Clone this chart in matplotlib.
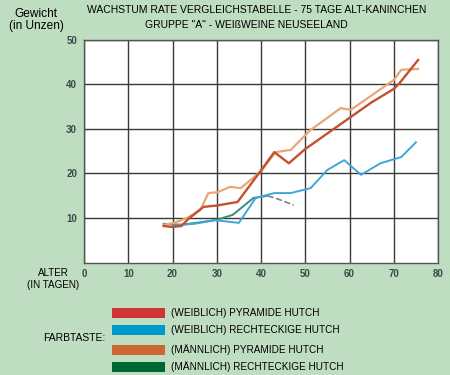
import matplotlib
matplotlib.use("Agg")
import matplotlib.pyplot as plt
from matplotlib.patches import Rectangle

plt.rcParams['font.family'] = ['Liberation Sans', 'DejaVu Sans']

title1 = 'WACHSTUM RATE VERGLEICHSTABELLE - 75 TAGE ALT-KANINCHEN'
title2 = 'GRUPPE "A" - WEIßWEINE NEUSEELAND'
ylabel = 'Gewicht\n(in Unzen)'
xlabel = 'ALTER\n(IN TAGEN)'
legend_title = 'FARBTASTE:'
series_names = ['(WEIBLICH) PYRAMIDE HUTCH', '(WEIBLICH) RECHTECKIGE HUTCH',
                '(MÄNNLICH) PYRAMIDE HUTCH', '(MÄNNLICH) RECHTECKIGE HUTCH']
legend_colors = ['#D03434', '#0099CC', '#CC6633', '#006633']

x_ticks = [0, 10, 20, 30, 40, 50, 60, 70, 80]
y_ticks = [10, 20, 30, 40, 50]

# female pyramid (red)
fp_x = [18, 20, 22, 23.6, 27, 30, 34.7, 39.5, 43, 46.3, 50, 55, 60, 65, 70, 71.3, 75.5]
fp_y = [8.2, 8.0, 8.2, 9.8, 12.5, 12.8, 13.6, 20, 24.8, 22.3, 25.5, 29, 32.5, 36, 39, 40.3, 45.5]
# female rectangular (blue)
fr_x = [20, 25, 29.7, 35, 38.8, 43, 46.7, 51.2, 55, 58.8, 62.6, 67, 71.7, 75]
fr_y = [8.3, 8.7, 9.5, 8.9, 14.5, 15.6, 15.6, 16.7, 20.8, 23, 19.7, 22.3, 23.7, 27]
# male pyramid (orange)
mp_x = [18, 20, 23.3, 26.3, 28.1, 30.2, 33, 35.4, 40, 43.3, 46.7, 51.2, 55, 58, 60.3, 64.2, 70, 71.7, 75.5]
mp_y = [8.5, 8.8, 10, 11.8, 15.6, 15.8, 17, 16.7, 20.5, 24.8, 25.3, 29.8, 32.5, 34.7, 34.3, 37, 41, 43.3, 43.5]
# male rectangular (green), with dashed continuation
mr_x = [18, 22, 26, 30, 33.6, 38.3, 41.5]
mr_y = [8.7, 8.5, 9.0, 9.6, 10.7, 14.5, 15]
mr_dash_x = [41.5, 44, 47.4]
mr_dash_y = [15, 14.2, 12.9]

bg = '#BFDDC1'
fig = plt.figure(figsize=(4.5, 3.75), dpi=100, facecolor=bg)
ax = fig.add_axes([84/450, 1-262.5/375, 354/450, 222.5/375])
ax.set_facecolor('white')
ax.set_xlim(0, 80)
ax.set_ylim(0, 50)
ax.set_xticks(x_ticks)
ax.set_yticks(y_ticks)
ax.grid(True, color='#3A3A3A', linewidth=1.0)
ax.set_axisbelow(True)
for s in ax.spines.values():
    s.set_color('#555555')
    s.set_linewidth(1.0)
ax.tick_params(length=0, labelsize=7, colors='#3A4A4A', pad=5)
for lab in ax.get_xticklabels() + ax.get_yticklabels():
    lab.set_fontweight('bold')

ax.plot(mr_x, mr_y, color='#3C8C78', lw=1.4, zorder=3)
ax.plot(mr_dash_x, mr_dash_y, color='#808080', lw=1.2, ls='--', zorder=3)
ax.plot(fr_x, fr_y, color='#3FA6DC', lw=1.4, zorder=3)
ax.plot(mp_x, mp_y, color='#EAA676', lw=1.6, zorder=4)
ax.plot(fp_x, fp_y, color='#C4502C', lw=1.7, zorder=5)

fig.text(257/450, 1-10/375, title1, ha='center', va='center', fontsize=7.5)
fig.text(246/450, 1-25/375, title2, ha='center', va='center', fontsize=7.5)
fig.text(36/450, 1-20/375, ylabel, ha='center', va='center', fontsize=8.6, linespacing=1.05)
fig.text(53/450, 1-279/375, xlabel, ha='center', va='center', fontsize=7.1, linespacing=1.3)

fig.text(43/450, 1-338/375, legend_title, ha='left', va='center', fontsize=7.5)
ys = [313, 330, 350, 367]
for name, c, y in zip(series_names, legend_colors, ys):
    fig.patches.append(Rectangle((112/450, 1-(y+5)/375), 53/450, 10/375,
                                 transform=fig.transFigure, facecolor=c, edgecolor='none'))
    fig.text(171/450, 1-y/375, name, ha='left', va='center', fontsize=7.2)

fig.savefig('out.png', dpi=100, facecolor=bg)
